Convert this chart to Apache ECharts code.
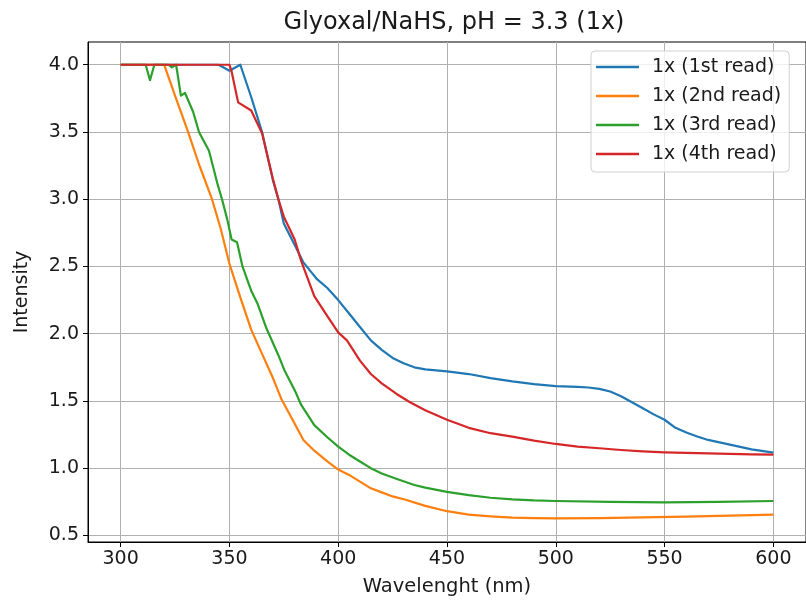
<!DOCTYPE html>
<html>
<head>
<meta charset="utf-8">
<script src="https://cdn.jsdelivr.net/npm/echarts@6/dist/echarts.min.js"></script>
<style>html,body{margin:0;padding:0;background:#fff;}#c{width:806px;height:602px;}</style>
</head>
<body>
<div id="c"></div>
<script>
const seriesNames = ['1x (1st read)', '1x (2nd read)', '1x (3rd read)', '1x (4th read)'];
const xTicks = [300, 350, 400, 450, 500, 550, 600];
const yTicks = [0.5, 1.0, 1.5, 2.0, 2.5, 3.0, 3.5, 4.0];

const blueX = [300, 345, 350, 355, 360, 365, 370, 372.5, 375, 380, 384, 388, 390, 395, 400, 405, 410, 415, 420, 425, 430, 435, 440, 450, 460, 470, 480, 490, 500, 510, 515, 520, 525, 530, 535, 540, 545, 550, 555, 560, 565, 570, 580, 590, 600];
const blueY = [4.0, 4.0, 3.955, 4.0, 3.76, 3.5, 3.14, 3.0, 2.82, 2.66, 2.53, 2.45, 2.41, 2.34, 2.25, 2.15, 2.05, 1.95, 1.88, 1.82, 1.78, 1.75, 1.735, 1.72, 1.70, 1.67, 1.645, 1.625, 1.61, 1.605, 1.60, 1.59, 1.57, 1.535, 1.49, 1.445, 1.40, 1.36, 1.30, 1.265, 1.235, 1.21, 1.175, 1.14, 1.115];

const orangeX = [300, 320, 325, 331, 336, 342, 346, 350, 355, 360, 365, 370, 374, 380, 384, 389, 395, 400, 405, 410, 415, 420, 425, 431, 440, 450, 460, 470, 480, 490, 500, 520, 540, 560, 580, 600];
const orangeY = [4.0, 4.0, 3.77, 3.5, 3.26, 3.0, 2.78, 2.52, 2.27, 2.03, 1.85, 1.67, 1.51, 1.33, 1.21, 1.13, 1.05, 0.99, 0.95, 0.90, 0.85, 0.82, 0.79, 0.765, 0.72, 0.68, 0.655, 0.642, 0.632, 0.628, 0.626, 0.628, 0.634, 0.64, 0.647, 0.655];

const greenX = [300, 311.5, 313.5, 315.5, 322, 323.5, 325.5, 327.7, 329.6, 333.3, 336, 340.6, 344.4, 346.6, 349, 351, 353.5, 356, 360, 363, 367, 372.5, 375.5, 380, 383, 389, 395, 400, 405, 410, 415, 420, 427, 435, 440, 450, 460, 470, 480, 490, 500, 525, 550, 575, 600];
const greenY = [4.0, 4.0, 3.885, 4.0, 4.0, 3.98, 4.0, 3.77, 3.79, 3.65, 3.5, 3.36, 3.12, 3.0, 2.85, 2.70, 2.68, 2.5, 2.32, 2.22, 2.04, 1.84, 1.72, 1.58, 1.47, 1.32, 1.23, 1.16, 1.10, 1.05, 1.00, 0.96, 0.92, 0.875, 0.855, 0.824, 0.80, 0.78, 0.768, 0.76, 0.756, 0.75, 0.746, 0.75, 0.756];

const redX = [300, 350, 351, 354, 360, 365, 370, 372.5, 375, 380, 383, 389, 395, 400, 404, 410, 415, 420, 427, 433, 440, 450, 460, 470, 480, 490, 500, 510, 520, 530, 540, 550, 560, 575, 590, 600];
const redY = [4.0, 4.0, 3.95, 3.72, 3.66, 3.49, 3.15, 3.0, 2.87, 2.70, 2.54, 2.28, 2.13, 2.01, 1.95, 1.80, 1.70, 1.63, 1.55, 1.49, 1.43, 1.36, 1.30, 1.26, 1.235, 1.205, 1.18, 1.16, 1.148, 1.135, 1.125, 1.118, 1.113, 1.108, 1.102, 1.10];

const colors = ['#1f77b4', '#ff7f0e', '#2ca02c', '#d62728'];
const xs = [blueX, orangeX, greenX, redX];
const ys = [blueY, orangeY, greenY, redY];

const FONT = 'DejaVu Sans';
const chart = echarts.init(document.getElementById('c'), null, {renderer: 'canvas'});
chart.setOption({
  animation: false,
  backgroundColor: '#fff',
  title: {
    text: 'Glyoxal/NaHS, pH = 3.3 (1x)',
    left: 449, top: 6, textAlign: 'center',
    textStyle: {fontFamily: FONT, fontSize: 24, fontWeight: 'normal', color: '#1a1a1a'}
  },
  legend: {
    orient: 'vertical', left: 591, top: 51,
    data: seriesNames,
    icon: 'rect', itemWidth: 43, itemHeight: 2.5, itemGap: 9,
    padding: [6, 8, 8, 5],
    backgroundColor: 'rgba(255,255,255,0.8)',
    borderColor: '#d0d0d0', borderWidth: 1, borderRadius: 4,
    textStyle: {fontFamily: FONT, fontSize: 19, color: '#1a1a1a', lineHeight: 20, padding: [0,0,0,8]}
  },
  grid: {left: 88, right: -6, top: 42, bottom: 57, show: true, borderColor: '#000', borderWidth: 1, backgroundColor: '#fff'},
  xAxis: {
    type: 'value', min: 285, max: 615,
    name: 'Wavelenght (nm)', nameLocation: 'middle', nameGap: 35,
    nameTextStyle: {fontFamily: FONT, fontSize: 19.5, color: '#1a1a1a'},
    axisLine: {show: true, lineStyle: {color: '#000', width: 1}},
    axisTick: {show: true, inside: false, length: 5, customValues: xTicks, lineStyle: {color: '#000'}},
    axisLabel: {customValues: xTicks, margin: 8, fontFamily: FONT, fontSize: 19, color: '#1a1a1a'},
    splitLine: {show: true, customValues: xTicks, lineStyle: {color: '#b0b0b0', width: 1}}
  },
  yAxis: {
    type: 'value', min: 0.451, max: 4.169,
    name: 'Intensity', nameLocation: 'middle', nameGap: 56,
    nameTextStyle: {fontFamily: FONT, fontSize: 19, color: '#1a1a1a'},
    axisLine: {show: true, lineStyle: {color: '#000', width: 1}},
    axisTick: {show: true, inside: false, length: 5, customValues: yTicks, lineStyle: {color: '#000'}},
    axisLabel: {customValues: yTicks, margin: 9, fontFamily: FONT, fontSize: 19, color: '#1a1a1a',
      formatter: v => v.toFixed(1)},
    splitLine: {show: true, customValues: yTicks, lineStyle: {color: '#b0b0b0', width: 1}}
  },
  series: seriesNames.map((n, i) => ({
    name: n, type: 'line', showSymbol: false, symbol: 'none',
    color: colors[i],
    lineStyle: {width: 2.2, color: colors[i], join: 'round'},
    data: xs[i].map((x, j) => [x, ys[i][j]])
  }))
});
</script>
</body>
</html>
